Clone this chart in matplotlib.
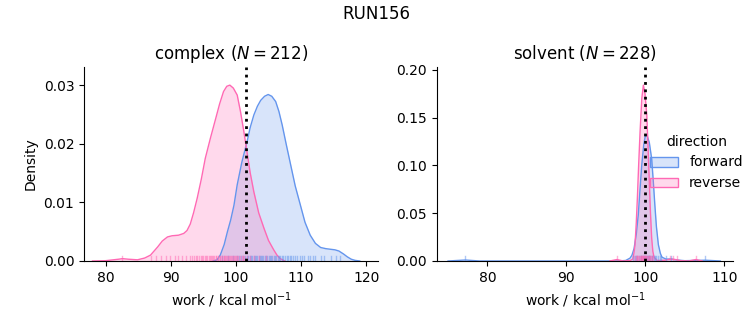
import matplotlib
matplotlib.use("Agg")
import matplotlib.pyplot as plt
from matplotlib.patches import Patch

# density curves (x = work, y = density)
cpx_rev_x = [78.0, 80.0, 82.0, 82.6, 83.5, 84.9, 86.0, 86.9, 88.0, 88.7, 89.5, 90.2, 91.2, 92.0, 92.5,
             93.0, 93.5, 94.06, 94.7, 95.3, 96.1, 96.9, 97.5, 98.1, 98.6, 99.07, 99.6, 100.2, 100.7,
             101.2, 101.7, 102.2, 102.75, 103.5, 104.3, 105.0, 105.8, 106.3, 106.8, 107.5]
cpx_rev_y = [0, 0.00005, 0.0003, 0.0004, 0.0003, 0.0002, 0.0005, 0.001, 0.0024, 0.0034, 0.0041, 0.0043,
             0.0044, 0.0047, 0.0052, 0.0063, 0.0082, 0.0107, 0.0140, 0.0175, 0.0210, 0.0243, 0.0268,
             0.0289, 0.0298, 0.0300, 0.0295, 0.0283, 0.0255, 0.0222, 0.0186, 0.0150, 0.0118, 0.0082,
             0.0056, 0.0035, 0.0019, 0.0010, 0.0004, 0.0]
cpx_fwd_x = [96.5, 97.1, 97.6, 98.2, 98.7, 99.2, 99.7, 100.2, 100.9, 101.7, 102.2, 102.75, 103.3, 103.8,
             104.4, 104.95, 105.5, 106.1, 106.6, 107.1, 107.7, 108.4, 109.1, 109.9, 110.6, 111.4, 112.2,
             113.0, 113.8, 114.5, 115.2, 115.8, 116.5, 117.1, 117.7, 118.3, 119.0]
cpx_fwd_y = [0, 0.0002, 0.0010, 0.0028, 0.0050, 0.0070, 0.0095, 0.0130, 0.0168, 0.0203, 0.0228, 0.0249,
             0.0264, 0.0274, 0.0281, 0.0284, 0.0281, 0.0272, 0.0255, 0.0232, 0.0200, 0.0164, 0.0128,
             0.0095, 0.0066, 0.0044, 0.0030, 0.0023, 0.0021, 0.0020, 0.0019, 0.0017, 0.0012, 0.0007,
             0.0003, 0.0001, 0]

slv_rev_x = [95.5, 96.4, 97.2, 98.1, 98.4, 98.55, 98.69, 98.85, 98.99, 99.15, 99.33, 99.55, 99.75,
             99.95, 100.18, 100.35, 100.5, 100.65, 100.8, 100.95, 101.1, 101.5, 102.5, 103.2, 103.8,
             104.5, 105.5, 106.4, 107.2]
slv_rev_y = [0, 0.0015, 0, 0.0005, 0.002, 0.008, 0.017, 0.040, 0.066, 0.100, 0.135, 0.170, 0.184,
             0.175, 0.153, 0.118, 0.083, 0.050, 0.024, 0.010, 0.004, 0.0005, 0.0008, 0.002, 0.0015,
             0.0003, 0, 0.0015, 0]
slv_fwd_x = [75.0, 77.2, 79.0, 96.5, 97.5, 98.06, 98.3, 98.57, 98.85, 99.1, 99.3, 99.54, 99.8, 100.0,
             100.18, 100.5, 100.8, 101.0, 101.2, 101.4, 101.65, 101.9, 102.1, 102.6, 103.3, 104.0,
             105.0, 107.6, 109.5]
slv_fwd_y = [0, 0.001, 0, 0, 0.0005, 0.003, 0.006, 0.013, 0.028, 0.048, 0.072, 0.100, 0.122, 0.131,
             0.132, 0.124, 0.107, 0.084, 0.059, 0.036, 0.017, 0.008, 0.004, 0.002, 0.002, 0.001,
             0.0003, 0.0008, 0]

# rug samples (approximate positions of the ticks)
cpx_rev_rug = [82.6, 86.9, 87.8, 88.5, 89.2, 89.9, 90.6, 91.1, 91.8, 92.4, 92.9, 93.2, 93.5, 93.9, 94.1,
               94.3, 94.6, 94.8, 95.0, 95.2, 95.4, 95.6, 95.8, 96.0, 96.2, 96.3, 96.5, 96.7, 96.9,
               97.0, 97.2, 97.3, 97.5, 97.6, 97.8, 97.9, 98.1, 98.2, 98.4, 98.5, 98.7, 98.8, 99.0,
               99.1, 99.3, 99.4, 99.6, 99.7, 99.9, 100.0, 100.2, 100.3, 100.6, 100.9, 101.1, 101.3,
               101.7, 102.2, 102.8, 103.5, 104.6]
cpx_fwd_rug = [97.9, 98.8, 99.5, 100.1, 100.5, 100.8, 101.1, 101.4, 101.7, 101.9, 102.1, 102.3, 102.5,
               102.7, 102.9, 103.1, 103.3, 103.5, 103.7, 103.9, 104.0, 104.2, 104.4, 104.6, 104.8,
               105.0, 105.2, 105.4, 105.6, 105.8, 106.0, 106.2, 106.4, 106.6, 106.8, 107.0, 107.3,
               107.5, 107.8, 108.0, 108.3, 108.5, 108.8, 109.1, 109.4, 109.8, 110.2, 110.5, 111.0,
               111.3, 111.8, 112.2, 113.0, 113.5, 114.6, 115.3, 116.0]
slv_rev_rug = [96.4, 98.6, 98.8, 98.9, 99.0, 99.1, 99.2, 99.3, 99.4, 99.5, 99.55, 99.6, 99.7, 99.75,
               99.8, 99.85, 99.9, 100.0, 100.05, 100.1, 100.2, 100.3, 100.4, 100.5, 100.6, 100.7,
               100.8, 101.0, 103.1, 103.5, 104.0, 106.4]
slv_fwd_rug = [77.2, 98.4, 98.7, 98.8, 99.0, 99.2, 99.4, 99.5, 99.7, 99.8, 100.0, 100.1, 100.2, 100.3,
               100.4, 100.5, 100.6, 100.8, 100.9, 101.1, 101.2, 101.4, 101.6, 101.8, 102.0, 102.6,
               103.3, 107.6]

fwd_color = "cornflowerblue"
rev_color = "hotpink"

fig = plt.figure(figsize=(7.53, 3.25), dpi=100)
ax1 = fig.add_axes([0.1116, 0.197, 0.3904, 0.597])
ax2 = fig.add_axes([0.5803, 0.197, 0.3931, 0.597])


def draw(ax, fx, fy, rx, ry, frug, rrug, vline):
    ax.fill_between(fx, fy, color=fwd_color, alpha=0.25, lw=0)
    ax.plot(fx, fy, color=fwd_color, lw=1)
    ax.fill_between(rx, ry, color=rev_color, alpha=0.25, lw=0)
    ax.plot(rx, ry, color=rev_color, lw=1)
    for v in frug:
        ax.axvline(v, ymin=0, ymax=0.025, color=fwd_color, alpha=0.5, lw=1)
    for v in rrug:
        ax.axvline(v, ymin=0, ymax=0.025, color=rev_color, alpha=0.5, lw=1)
    ax.axvline(vline, color="black", ls=":", lw=2)
    ax.spines["top"].set_visible(False)
    ax.spines["right"].set_visible(False)
    ax.set_xlabel("work / kcal mol$^{-1}$")


draw(ax1, cpx_fwd_x, cpx_fwd_y, cpx_rev_x, cpx_rev_y, cpx_fwd_rug, cpx_rev_rug, 101.6)
ax1.set_xlim(76.7, 121.8)
ax1.set_ylim(0, 0.0331)
ax1.set_xticks([80, 90, 100, 110, 120])
ax1.set_yticks([0, 0.01, 0.02, 0.03])
ax1.set_ylabel("Density")
ax1.set_title("complex ($N = 212$)", fontsize=12)

draw(ax2, slv_fwd_x, slv_fwd_y, slv_rev_x, slv_rev_y, slv_fwd_rug, slv_rev_rug, 100.0)
ax2.set_xlim(73.6, 111.1)
ax2.set_ylim(0, 0.203)
ax2.set_xticks([80, 90, 100, 110])
ax2.set_yticks([0, 0.05, 0.10, 0.15, 0.20])
ax2.set_title("solvent ($N = 228$)", fontsize=12)

handles = [Patch(facecolor=matplotlib.colors.to_rgba(fwd_color, 0.25), edgecolor=fwd_color),
           Patch(facecolor=matplotlib.colors.to_rgba(rev_color, 0.25), edgecolor=rev_color)]
fig.legend(handles, ["forward", "reverse"], title="direction", frameon=False,
           loc="center left", bbox_to_anchor=(0.847, 0.50))

fig.suptitle("RUN156", fontsize=12, y=0.985)
fig.savefig("out.png", dpi=100)
